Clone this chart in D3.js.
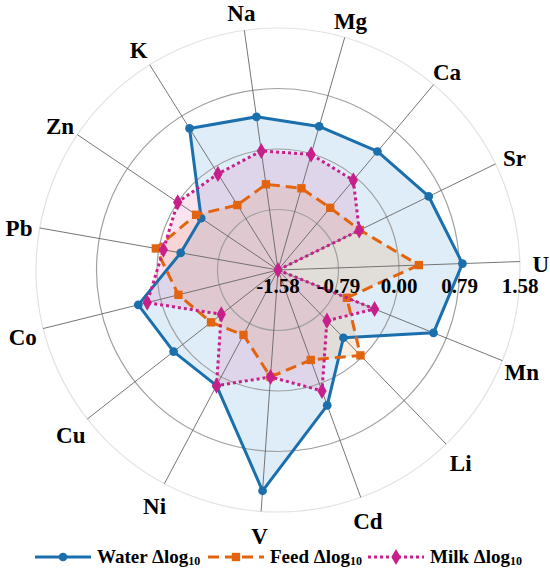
<!DOCTYPE html>
<html>
<head>
<meta charset="utf-8">
<script src="https://cdn.jsdelivr.net/npm/d3@7"></script>
<style>
    body { margin: 0; background: #fff; }
</style>
</head>
<body>
<svg id="radar" width="550" height="572"></svg>
<script>
// element order, clockwise, starting at U (just above 3 o'clock)
var categories = ["U", "Mn", "Li", "Cd", "V", "Ni", "Cu", "Co", "Pb", "Zn", "K", "Na", "Mg", "Ca", "Sr"];
var water = [0.83, 0.61, -0.35, 0.30, 1.31, 0.13, 0.15, 0.30, -0.29, -0.37, 0.60, 0.44, 0.37, 0.44, 0.61];
var feed = [0.26, -0.61, -0.03, -0.33, -0.18, -0.62, -0.47, -0.24, 0.04, -0.29, -0.58, -0.45, -0.47, -0.52, -0.39];
var milk = [-1.58, -0.22, -0.66, 0.10, -0.18, 0.13, -0.64, 0.18, -0.06, 0.00, -0.10, -0.01, -0.01, -0.05, -0.40];
var ticks = [-1.58, -0.79, 0.00, 0.79, 1.58];
var seriesNames = ["Water", "Feed", "Milk"];

var FONT = '"Liberation Serif", "Times New Roman", serif';

function drawRadar() {
    var svg = d3.select("#radar");
    var center = {x: 278, y: 270};
    var radius = 242;
    var startAngle = 88 * Math.PI / 180;

    var rScale = d3.scaleLinear().domain([ticks[0], ticks[ticks.length - 1]]).range([0, radius]);
    var aScale = d3.scaleLinear().domain([0, categories.length]).range([startAngle, startAngle + 2 * Math.PI]);

    var series = [
        {name: seriesNames[0], values: water, color: "#1b6fad", fill: "rgba(110,175,225,0.22)", dash: null, symbol: d3.symbolCircle, size: 60},
        {name: seriesNames[1], values: feed, color: "#e2640f", fill: "rgba(235,140,60,0.16)", dash: "11,6", symbol: d3.symbolSquare, size: 70},
        {name: seriesNames[2], values: milk, color: "#c8208a", fill: "rgba(225,90,160,0.16)", dash: "3,3", symbol: d3.symbolDiamond, size: 75}
    ];

    var g = svg.append("g").attr("transform", "translate(" + center.x + "," + center.y + ")");

    function px(i, v) { return rScale(v) * Math.sin(aScale(i)); }
    function py(i, v) { return -rScale(v) * Math.cos(aScale(i)); }

    // fills first
    var area = d3.lineRadial()
        .angle((d, i) => aScale(i))
        .radius((d) => rScale(d))
        .curve(d3.curveLinearClosed);

    g.selectAll("path.fill").data(series).enter()
        .append("path")
        .attr("class", "fill")
        .attr("d", (s) => area(s.values))
        .attr("fill", (s) => s.fill)
        .attr("stroke", "none");

    // rings
    g.selectAll("circle.ring").data(ticks.slice(1)).enter()
        .append("circle")
        .attr("class", "ring")
        .attr("r", (d) => rScale(d))
        .attr("fill", "none")
        .attr("stroke", (d, i) => i == ticks.length - 2 ? "#e2e2e2" : "#a0a0a0")
        .attr("stroke-width", 1.2);

    // spokes
    g.selectAll("line.spoke").data(categories).enter()
        .append("line")
        .attr("class", "spoke")
        .attr("x1", 0).attr("y1", 0)
        .attr("x2", (d, i) => px(i, ticks[ticks.length - 1]))
        .attr("y2", (d, i) => py(i, ticks[ticks.length - 1]))
        .attr("stroke", "#666")
        .attr("stroke-width", 0.9);

    // series lines + markers
    series.forEach((s) => {
        g.append("path")
            .attr("d", area(s.values))
            .attr("fill", "none")
            .attr("stroke", s.color)
            .attr("stroke-width", 3)
            .attr("stroke-linejoin", "round")
            .attr("stroke-dasharray", s.dash);
        g.selectAll(null).data(s.values).enter()
            .append("path")
            .attr("d", d3.symbol().type(s.symbol).size(s.size))
            .attr("transform", (d, i) => "translate(" + px(i, d) + "," + py(i, d) + ")")
            .attr("fill", s.color);
    });

    // category labels
    g.selectAll("text.cat").data(categories).enter()
        .append("text")
        .attr("class", "cat")
        .attr("x", (d, i) => (radius + 21) * Math.sin(aScale(i)))
        .attr("y", (d, i) => -(radius + 21) * Math.cos(aScale(i)) + 4)
        .attr("text-anchor", "middle")
        .attr("dominant-baseline", "central")
        .style("font-family", FONT)
        .style("font-weight", "bold")
        .style("font-size", "23px")
        .text((d) => d);

    // tick labels along horizontal
    g.selectAll("text.tick").data(ticks).enter()
        .append("text")
        .attr("class", "tick")
        .attr("x", (d) => rScale(d))
        .attr("y", 23)
        .attr("text-anchor", "middle")
        .style("font-family", FONT)
        .style("font-weight", "bold")
        .style("font-size", "21px")
        .text((d) => d3.format(".2f")(d).replace("\u2212", "-"));

    // legend
    var legend = svg.append("g").attr("transform", "translate(0,557)");
    var legX = [35, 208, 368];
    series.forEach((s, i) => {
        var lg = legend.append("g").attr("transform", "translate(" + legX[i] + ",0)");
        lg.append("line")
            .attr("x1", 0).attr("x2", 56).attr("y1", 0).attr("y2", 0)
            .attr("stroke", s.color).attr("stroke-width", 3)
            .attr("stroke-dasharray", s.dash);
        lg.append("path")
            .attr("d", d3.symbol().type(s.symbol).size(s.size))
            .attr("transform", "translate(28,0)")
            .attr("fill", s.color);
        var t = lg.append("text")
            .attr("x", 62).attr("y", 6)
            .style("font-family", FONT)
            .style("font-weight", "bold")
            .style("font-size", "19px");
        t.append("tspan").text(s.name + " \u0394log");
        t.append("tspan").style("font-size", "12px").attr("dy", 2).text("10");
    });
}

drawRadar();
</script>
</body>
</html>
